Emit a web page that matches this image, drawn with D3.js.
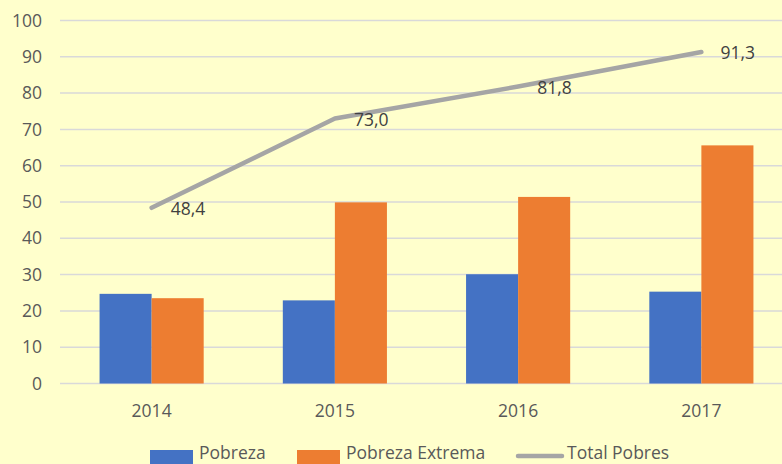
<!DOCTYPE html>
<html>
<head>
<meta charset="utf-8">
<script src="https://cdn.jsdelivr.net/npm/d3@7"></script>
<style>
  body { margin: 0; background: #FFFFCC; }
  svg { display: block; font-family: "Open Sans", sans-serif; }
</style>
</head>
<body>
<div id="chart"></div>
<script>
const years = ["2014", "2015", "2016", "2017"];
const pobreza = [24.7, 22.9, 30.1, 25.3];
const pobrezaExtrema = [23.5, 49.9, 51.4, 65.6];
const totalPobres = [48.4, 73.0, 81.8, 91.3];
const yTicks = [0, 10, 20, 30, 40, 50, 60, 70, 80, 90, 100];

const width = 782, height = 464;
const colors = { pob: "#4472C4", ext: "#ED7D31", tot: "#A5A5A5" };

const svg = d3.select("#chart").append("svg")
    .attr("width", width)
    .attr("height", height);

svg.append("rect")
    .attr("width", width).attr("height", height)
    .attr("fill", "#FFFFCC");

const xScale = d3.scaleBand()
    .domain(years)
    .range([60, 793]);

const xSub = d3.scaleBand()
    .domain(["pob", "ext"])
    .range([0, xScale.bandwidth()])
    .paddingInner(0)
    .paddingOuter(0.76);

const yScale = d3.scaleLinear()
    .domain([0, 100])
    .range([383.5, 20.5]);

// gridlines
svg.append("g").selectAll("line")
    .data(yTicks)
    .join("line")
    .attr("x1", 60).attr("x2", 793)
    .attr("y1", d => yScale(d)).attr("y2", d => yScale(d))
    .style("stroke", "#D9D9D9")
    .style("stroke-width", 1.5);

// y labels
svg.append("g").selectAll("text")
    .data(yTicks)
    .join("text")
    .attr("x", 42)
    .attr("y", d => yScale(d))
    .attr("dy", "0.35em")
    .style("text-anchor", "end")
    .style("font-size", "17.5px")
    .style("fill", "#595959")
    .text(d => d);

// bars
const rows = years.map((y, i) => ({ year: y, pob: pobreza[i], ext: pobrezaExtrema[i] }));
const groups = svg.append("g").selectAll("g")
    .data(rows)
    .join("g")
    .attr("transform", d => `translate(${xScale(d.year)},0)`);

groups.selectAll("rect")
    .data(d => ["pob", "ext"].map(k => ({ key: k, value: d[k] })))
    .join("rect")
    .attr("x", d => xSub(d.key))
    .attr("width", xSub.bandwidth())
    .attr("y", d => yScale(d.value))
    .attr("height", d => yScale(0) - yScale(d.value))
    .style("fill", d => colors[d.key]);

// x labels
svg.append("g").selectAll("text")
    .data(years)
    .join("text")
    .attr("x", d => xScale(d) + xScale.bandwidth() / 2)
    .attr("y", 411)
    .attr("dy", "0.35em")
    .style("text-anchor", "middle")
    .style("font-size", "17.5px")
    .style("fill", "#595959")
    .text(d => d);

// total line
const line = d3.line()
    .x((d, i) => xScale(years[i]) + xScale.bandwidth() / 2)
    .y(d => yScale(d));

svg.append("path")
    .datum(totalPobres)
    .attr("d", line)
    .style("fill", "none")
    .style("stroke", colors.tot)
    .style("stroke-width", 4.5)
    .style("stroke-linecap", "round")
    .style("stroke-linejoin", "round");

svg.append("g").selectAll("text")
    .data(totalPobres)
    .join("text")
    .attr("x", (d, i) => xScale(years[i]) + xScale.bandwidth() / 2 + 19)
    .attr("y", d => yScale(d) + 1)
    .attr("dy", "0.35em")
    .style("font-size", "17.5px")
    .style("fill", "#404040")
    .text(d => d3.format(".1f")(d).replace(".", ","));

// legend
const legend = svg.append("g");
const items = [
    { label: "Pobreza", key: "pob", x: 150, type: "rect" },
    { label: "Pobreza Extrema", key: "ext", x: 297, type: "rect" },
    { label: "Total Pobres", key: "tot", x: 516, type: "line" }
];
items.forEach(it => {
    if (it.type === "rect") {
        legend.append("rect")
            .attr("x", it.x).attr("y", 450)
            .attr("width", 43).attr("height", 14)
            .style("fill", colors[it.key]);
    } else {
        legend.append("line")
            .attr("x1", it.x + 2).attr("x2", it.x + 46)
            .attr("y1", 456).attr("y2", 456)
            .style("stroke", colors[it.key])
            .style("stroke-width", 4.5)
            .style("stroke-linecap", "round");
    }
    legend.append("text")
        .attr("x", it.x + (it.type === "rect" ? 49 : 51))
        .attr("y", 453)
        .attr("dy", "0.35em")
        .style("font-size", "17.5px")
        .style("fill", "#595959")
        .text(it.label);
});
</script>
</body>
</html>
